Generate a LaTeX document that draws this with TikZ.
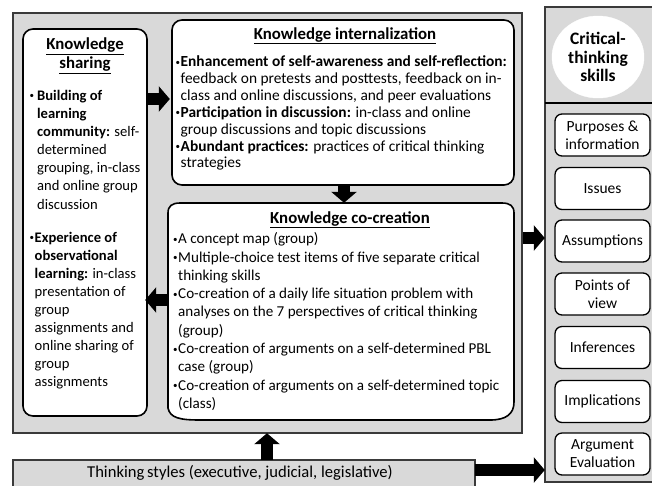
\documentclass[tikz,border=0pt]{standalone}
\usepackage{fontspec}
\setmainfont{Carlito}
\usetikzlibrary{arrows.meta,shapes.geometric}
\definecolor{panelgray}{HTML}{D9D9D9}
\definecolor{edgegray}{HTML}{3A3A3A}
\newcommand\bul{\makebox[5pt][l]{\raisebox{1.5pt}{\fontsize{9}{9}\selectfont •}}}
\newcommand\ind{\hspace*{5pt}}
\begin{document}
\begin{tikzpicture}[x=1pt,y=-1pt,
  panel/.style={fill=panelgray,draw=edgegray,line width=1.5pt},
  kbox/.style={fill=white,draw=black,line width=1.6pt,rounded corners=10pt},
  skill/.style={fill=white,draw=black,line width=1.3pt,rounded corners=7pt,minimum width=95pt,minimum height=42pt,inner sep=0pt,align=center,font=\fontsize{15.5}{18}\selectfont},
  body/.style={inner sep=0pt,align=left,anchor=north west},
  head/.style={inner sep=0pt,align=center,font=\fontsize{16.8}{20}\selectfont\bfseries},
  blockarrow/.style={line width=12pt,-{Triangle[length=11pt,width=25pt]}}
]
\useasboundingbox (0,0) rectangle (652,485);
\clip (0,0) rectangle (652,485);
\fill[white] (0,0) rectangle (652,485);

% panels
\draw[panel] (13,13) rectangle (522,433);
\node[draw=none,inner sep=0pt] (outer) at (267.5,223) [minimum width=509pt,minimum height=420pt] {};
\draw[panel] (545,7) rectangle (665,482);
\node[inner sep=0pt,minimum width=120pt,minimum height=475pt] (right) at (605,244.5) {};
\draw[panel] (13,460) rectangle (475,495);
\node[inner sep=0pt,minimum width=462pt,minimum height=35pt] (styles) at (244,477.5) {};
\node[anchor=base,inner sep=0pt,font=\fontsize{16.6}{19}\selectfont] (stylestxt) at (240,477) {Thinking\,styles (executive, judicial, legislative)};

% knowledge sharing
\draw[kbox] (23,29) rectangle (147,416);
\node[inner sep=0pt,minimum width=124pt,minimum height=387pt] (sharing) at (85,222.5) {};
\node[head] (sharehead) at (85,56) {\underline{Knowledge}\\[-1pt]\underline{sharing}};
\node[body,font=\fontsize{14.6}{18.1}\selectfont] (sharetxt) at (29.5,90) {%
\bul\,\textbf{Building of}\\
\ind\,\textbf{learning}\\
\ind\,\textbf{community:} self-\\
\ind\,determined\\
\ind\,grouping, in-class\\
\ind\,and online group\\
\ind\,discussion\\[15pt]
\bul\textbf{Experience of}\\
\ind\textbf{observational}\\
\ind\textbf{learning:} in-class\\
\ind presentation of\\
\ind group\\
\ind assignments and\\
\ind online sharing of\\
\ind group\\
\ind assignments};

% knowledge internalization
\draw[kbox] (172,20) rectangle (514,185);
\node[inner sep=0pt,minimum width=342pt,minimum height=165pt] (intern) at (343,102.5) {};
\node[head,anchor=base] (interhead) at (345,39) {\underline{Knowledge internalization}};
\node[body,font=\fontsize{15.4}{16.9}\selectfont] (intertxt) at (175.5,55.5) {%
\bul\textbf{Enhancement of self-awareness and self-reflection:}\\
\ind feedback on pretests and posttests, feedback on in-\\
\ind class and online discussions, and peer evaluations\\
\bul\textbf{Participation in discussion:} in-class and online\\
\ind group discussions and topic discussions\\
\bul\textbf{Abundant practices:} practices of critical thinking\\
\ind strategies};

% knowledge co-creation
\draw[fill=white,draw=black,line width=1.6pt]
  (168,213) .. controls (168,206) and (172,203) .. (180,203) -- (502,203)
  .. controls (510,203) and (514,206) .. (514,213) -- (514,402)
  .. controls (514,414) and (506,420) .. (490,420) -- (200,420)
  .. controls (180,420) and (170,418) .. (168,408) -- cycle;
\node[inner sep=0pt,minimum width=346pt,minimum height=217pt] (cocreate) at (341,311.5) {};
\node[head,anchor=base] (cohead) at (350,223) {\underline{Knowledge co-creation}};
\node[body,font=\fontsize{15.1}{18.3}\selectfont] (cotxt) at (173,232.5) {%
\bul A concept map (group)\\
\bul Multiple-choice test items of five separate critical\\
\ind thinking skills\\
\bul Co-creation of a daily life situation problem with\\
\ind analyses on the 7 perspectives of critical thinking\\
\ind (group)\\
\bul Co-creation of arguments on a self-determined PBL\\
\ind case (group)\\
\bul Co-creation of arguments on a self-determined topic\\
\ind (class)};

% critical thinking panel
\node[ellipse,fill=white,draw=white,minimum width=92pt,minimum height=82pt,inner sep=0pt,align=center,font=\fontsize{17.5}{18.5}\selectfont\bfseries] (ct) at (598,57) {Critical-\\thinking\\skills};
\coordinate (lineL) at (545,103);
\coordinate (lineR) at (652,103);
\draw[line width=1.6pt,black] (lineL) -- (lineR);
\node[skill] (s1) at (602.5,135) {Purposes \&\\information};
\node[skill] (s2) at (602.5,188.5) {Issues};
\node[skill] (s3) at (602.5,241) {Assumptions};
\node[skill] (s4) at (602.5,294) {Points of\\view};
\node[skill] (s5) at (602.5,347.5) {Inferences};
\node[skill] (s6) at (602.5,401.5) {Implications};
\node[skill] (s7) at (602.5,454) {Argument\\Evaluation};

% arrows
\coordinate (a1) at (0,99);
\draw[blockarrow] (sharing.east |- a1) -- ([xshift=-2pt]intern.west |- a1);
\coordinate (a2) at (344,0);
\draw[blockarrow] (intern.south -| a2) -- (cocreate.north -| a2);
\coordinate (a3) at (0,300);
\draw[blockarrow] (cocreate.west |- a3) -- ([xshift=-2pt]sharing.east |- a3);
\coordinate (a4) at (0,238);
\draw[blockarrow] ([xshift=0.5pt]outer.east |- a4) -- (right.west |- a4);
\coordinate (a5) at (267,0);
\draw[blockarrow] (styles.north -| a5) -- (outer.south -| a5);
\coordinate (a6) at (0,470);
\draw[blockarrow] (styles.east |- a6) -- (right.west |- a6);
\end{tikzpicture}
\end{document}
